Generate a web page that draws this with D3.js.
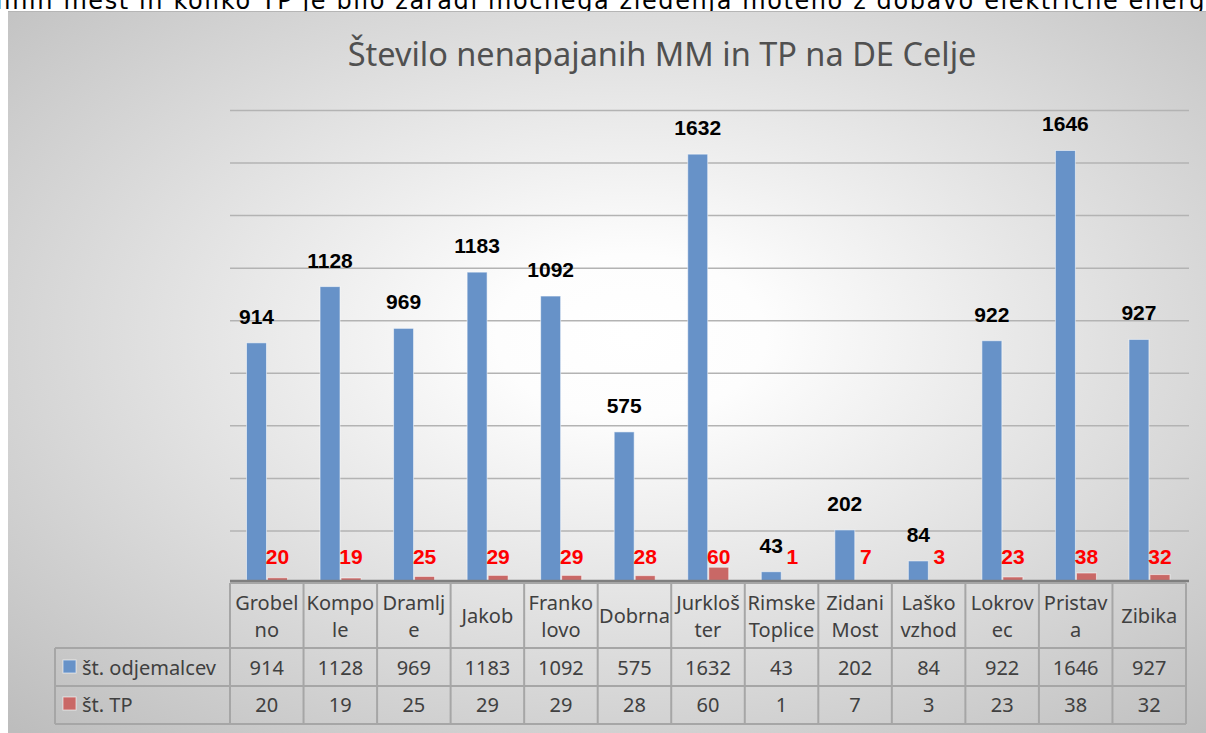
<!DOCTYPE html>
<html>
<head>
<meta charset="utf-8">
<script src="https://cdn.jsdelivr.net/npm/d3@7"></script>
<style>
  html, body { margin: 0; padding: 0; background: #fff; overflow: hidden; }
</style>
</head>
<body>
<svg id="chart" width="1206" height="733"></svg>
<script>
// podatki
const categories = ['Grobelno', 'Kompole', 'Dramlje', 'Jakob', 'Frankolovo', 'Dobrna', 'Jurklošter', 'Rimske Toplice', 'Zidani Most', 'Laško vzhod', 'Lokrovec', 'Pristava', 'Zibika']
const categoryLines = [['Grobel', 'no'], ['Kompo', 'le'], ['Dramlj', 'e'], ['Jakob'], ['Franko', 'lovo'], ['Dobrna'], ['Jurkloš', 'ter'], ['Rimske', 'Toplice'], ['Zidani', 'Most'], ['Laško', 'vzhod'], ['Lokrov', 'ec'], ['Pristav', 'a'], ['Zibika']]
const odjemalci = [914, 1128, 969, 1183, 1092, 575, 1632, 43, 202, 84, 922, 1646, 927]
const stTP = [20, 19, 25, 29, 29, 28, 60, 1, 7, 3, 23, 38, 32]
const seriesNames = ['št. odjemalcev', 'št. TP']
const gridTicks = [200, 400, 600, 800, 1000, 1200, 1400, 1600, 1800]
const title = 'Število nenapajanih MM in TP na DE Celje'
const caption = 'merilnih mest in koliko TP je bilo zaradi močnega žledenja moteno z dobavo električne energije'

const series = [
  { name: seriesNames[0], values: odjemalci, color: '#6792C8', labelColor: '#000' },
  { name: seriesNames[1], values: stTP, color: '#C96866', labelColor: '#FF0000' }
]

const svg = d3.select('#chart')
const plotLeft = 230
const plotRight = 1186
const gridRight = 1189
const tableFont = '"Noto Sans", "Open Sans", sans-serif'
const labelFont = '"Liberation Sans", Arial, sans-serif'

// ozadje - radialni gradient
const grad = svg.append('defs').append('radialGradient')
  .attr('id', 'bg')
  .attr('cx', '52%').attr('cy', '45%').attr('r', '75%')
grad.append('stop').attr('offset', '0').attr('stop-color', '#ffffff')
grad.append('stop').attr('offset', '0.15').attr('stop-color', '#fdfdfd')
grad.append('stop').attr('offset', '1').attr('stop-color', '#bdbdbd')

// besedilo nad grafom - v izvirniku odrezano na vrhu in na desni
const cap = svg.append('text')
  .attr('y', 9)
  .attr('font-family', '"DejaVu Sans", sans-serif')
  .attr('font-size', 24)
  .attr('letter-spacing', 1.6)
  .attr('fill', '#000')
  .text(caption)
// poravnaj tako, da se vidni del konča pri "energ" na desnem robu
const cutAt = caption.indexOf('energije') + 5
const visibleLen = cap.node().getSubStringLength(0, cutAt)
cap.attr('x', 1206 - visibleLen)

svg.append('rect')
  .attr('x', 8).attr('y', 11)
  .attr('width', 1198).attr('height', 722)
  .attr('fill', 'url(#bg)')
svg.append('line')
  .attr('x1', 8).attr('x2', 1206).attr('y1', 11.5).attr('y2', 11.5)
  .attr('stroke', '#b5b5b5').attr('stroke-width', 1)

// naslov
svg.append('text')
  .attr('x', 662)
  .attr('y', 66)
  .attr('text-anchor', 'middle')
  .attr('font-family', tableFont)
  .attr('font-size', 32.5)
  .attr('fill', '#505050')
  .text(title)

// skale
const x = d3.scaleBand().domain(categories).range([plotLeft, plotRight])
const xs = d3.scaleBand().domain(seriesNames).range([16.5, 57.5]).paddingInner(0.05)
const y = d3.scaleLinear().domain([0, 1800]).range([583, 110])
const bw = x.bandwidth()

// mreža
const grid = svg.append('g')
  .attr('transform', `translate(${plotLeft},0)`)
  .call(d3.axisLeft(y).tickValues(gridTicks).tickSize(-(gridRight - plotLeft)).tickFormat(''))
grid.select('.domain').remove()
grid.selectAll('.tick line')
  .attr('stroke', '#b3b3b3')
  .attr('stroke-width', 1.5)

// stolpci
series.forEach(s => {
  svg.append('g')
    .selectAll('rect')
    .data(s.values)
    .join('rect')
    .attr('x', (d, i) => x(categories[i]) + xs(s.name))
    .attr('y', d => y(d))
    .attr('width', xs.bandwidth())
    .attr('height', d => y(0) - y(d))
    .attr('fill', s.color)
    .attr('stroke', 'rgba(255,255,255,0.55)')
    .attr('stroke-width', 1)
})

// os
svg.append('line')
  .attr('x1', plotLeft).attr('x2', gridRight)
  .attr('y1', 581).attr('y2', 581)
  .attr('stroke', '#7f7f7f').attr('stroke-width', 2.5)

// oznake podatkov
svg.append('g')
  .selectAll('text')
  .data(odjemalci)
  .join('text')
  .attr('x', (d, i) => x(categories[i]) + xs(seriesNames[0]) + xs.bandwidth() / 2)
  .attr('y', d => y(d) - 19)
  .attr('text-anchor', 'middle')
  .attr('font-family', labelFont)
  .attr('font-weight', 'bold')
  .attr('font-size', 21)
  .attr('fill', series[0].labelColor)
  .text(d => d)

svg.append('g')
  .selectAll('text')
  .data(stTP)
  .join('text')
  .attr('x', (d, i) => x(categories[i]) + xs(seriesNames[1]) + xs.bandwidth() / 2)
  .attr('y', y(0) - 19)
  .attr('text-anchor', 'middle')
  .attr('font-family', labelFont)
  .attr('font-weight', 'bold')
  .attr('font-size', 21)
  .attr('fill', series[1].labelColor)
  .text(d => d)

// podatkovna tabela
const table = svg.append('g')
  .attr('stroke', '#a6a6a6')
  .attr('stroke-width', 2)
const rowY = [583, 648, 686, 724]
rowY.forEach((ry, i) => {
  table.append('line')
    .attr('x1', i === 0 ? plotLeft : 55).attr('x2', plotRight)
    .attr('y1', ry).attr('y2', ry)
})
table.append('line').attr('x1', 55).attr('x2', 55).attr('y1', 648).attr('y2', 724)
d3.range(categories.length + 1).forEach(i => {
  const cx = plotLeft + i * bw
  table.append('line').attr('x1', cx).attr('x2', cx).attr('y1', 583).attr('y2', 724)
})

const header = svg.append('g')
  .attr('font-family', tableFont)
  .attr('font-size', 20)
  .attr('fill', '#404040')
  .attr('text-anchor', 'middle')
categoryLines.forEach((lines, i) => {
  const t = header.append('text')
    .attr('x', x(categories[i]) + bw / 2)
  lines.forEach((ln, j) => {
    t.append('tspan')
      .attr('x', x(categories[i]) + bw / 2)
      .attr('y', lines.length === 1 ? 623 : 610 + j * 27)
      .text(ln)
  })
})

const rowBase = [675, 712]
series.forEach((s, k) => {
  svg.append('g')
    .selectAll('text')
    .data(s.values)
    .join('text')
    .attr('x', (d, i) => x(categories[i]) + bw / 2)
    .attr('y', rowBase[k])
    .attr('text-anchor', 'middle')
    .attr('font-family', tableFont)
    .attr('font-size', 20)
    .attr('fill', '#404040')
    .text(d => d)

  svg.append('rect')
    .attr('x', 63).attr('y', rowBase[k] - 15)
    .attr('width', 13).attr('height', 13)
    .attr('fill', s.color)
    .attr('stroke', 'rgba(255,255,255,0.6)')
  svg.append('text')
    .attr('x', 82).attr('y', rowBase[k])
    .attr('font-family', tableFont)
    .attr('font-size', 20)
    .attr('fill', '#404040')
    .text(s.name)
})
</script>
</body>
</html>
